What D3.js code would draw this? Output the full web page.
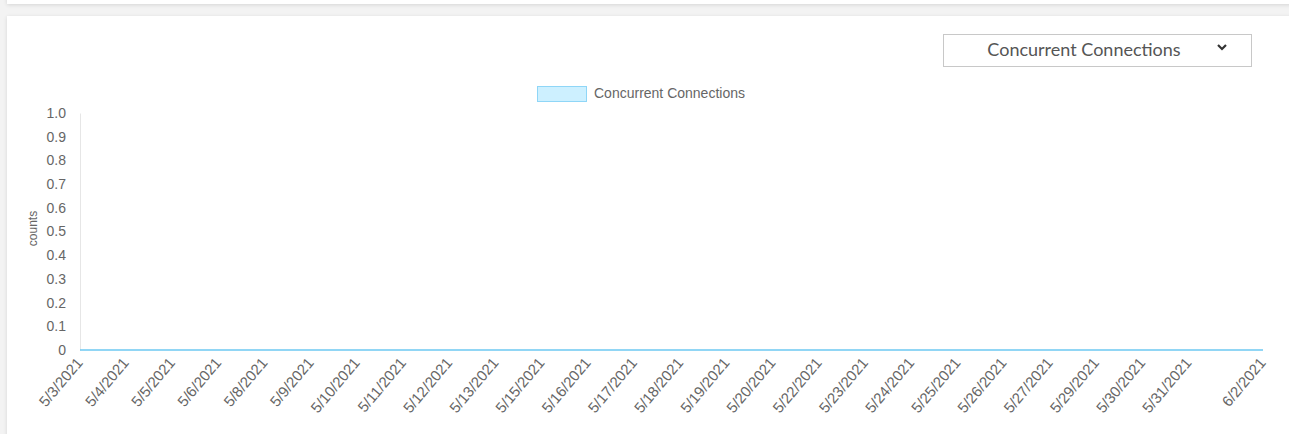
<!DOCTYPE html>
<html>
<head>
<meta charset="utf-8">
<script src="https://cdn.jsdelivr.net/npm/d3@7"></script>
<style>
  html, body { margin: 0; padding: 0; }
  body { width: 1289px; height: 434px; background: #f3f3f3; overflow: hidden; position: relative; }
  .card { position: absolute; background: #fff; box-shadow: 0 1px 4px rgba(0,0,0,0.12); }
  #chart { position: absolute; left: 0; top: 0; }
</style>
</head>
<body>
<div class="card" style="left:7px; top:-20px; width:1290px; height:24px;"></div>
<div class="card" style="left:7px; top:16px; width:1290px; height:440px;"></div>
<svg id="chart" width="1289" height="434"></svg>
<script>
// Sampled timestamps (one per axis label) and the connection counts at each
const timestamps = [
  "2021-05-03T10:00", "2021-05-04T14:00", "2021-05-05T18:00", "2021-05-06T22:00",
  "2021-05-08T02:00", "2021-05-09T06:00", "2021-05-10T10:00", "2021-05-11T14:00",
  "2021-05-12T18:00", "2021-05-13T22:00", "2021-05-15T02:00", "2021-05-16T06:00",
  "2021-05-17T10:00", "2021-05-18T14:00", "2021-05-19T18:00", "2021-05-20T22:00",
  "2021-05-22T02:00", "2021-05-23T06:00", "2021-05-24T10:00", "2021-05-25T14:00",
  "2021-05-26T18:00", "2021-05-27T22:00", "2021-05-29T02:00", "2021-05-30T06:00",
  "2021-05-31T10:00", "2021-06-02T07:00"
];
const counts = [
  0, 0, 0, 0, 0, 0, 0, 0, 0, 0, 0, 0, 0,
  0, 0, 0, 0, 0, 0, 0, 0, 0, 0, 0, 0, 0
];
const yTicks = [0, 0.1, 0.2, 0.3, 0.4, 0.5, 0.6, 0.7, 0.8, 0.9, 1.0];
const seriesName = "Concurrent Connections";
const metricOptions = ["Concurrent Connections"];

const parse = d3.timeParse("%Y-%m-%dT%H:%M");
const data = timestamps.map((t, i) => ({ t: parse(t), v: counts[i] }));

const svg = d3.select("#chart");
const font = "'Liberation Sans', Arial, sans-serif";
const textColor = "#666";

const x = d3.scaleTime().domain(d3.extent(data, d => d.t)).range([80, 1263]);
const y = d3.scaleLinear().domain([0, 1]).range([350, 113]);

// y axis
const yAxis = svg.append("g")
  .attr("transform", `translate(${x.range()[0]},0)`)
  .call(d3.axisLeft(y).tickValues(yTicks).tickSize(0).tickPadding(14)
    .tickFormat(d => d === 0 ? "0" : d3.format(".1f")(d)));
yAxis.select(".domain").attr("stroke", "#e6e6e6");
yAxis.selectAll("text").attr("font-family", font).attr("font-size", 14).attr("fill", textColor);

svg.append("text")
  .attr("transform", `translate(37,${(y.range()[0] + y.range()[1]) / 2 - 3}) rotate(-90)`)
  .attr("text-anchor", "middle")
  .attr("font-family", font).attr("font-size", 12).attr("fill", textColor)
  .text("counts");

// x axis labels
const xAxis = svg.append("g")
  .attr("transform", `translate(0,${y(0)})`)
  .call(d3.axisBottom(x).tickValues(data.map(d => d.t)).tickSize(0).tickPadding(0)
    .tickFormat(d3.timeFormat("%-m/%-d/%Y")));
xAxis.select(".domain").remove();
xAxis.selectAll("text")
  .attr("font-family", font).attr("font-size", 15).attr("fill", textColor)
  .attr("text-anchor", "end")
  .attr("dy", null).attr("y", 0)
  .attr("transform", "translate(3,13) rotate(-50)");

// series line at its values
const line = d3.line().x(d => x(d.t)).y(d => y(d.v));
svg.append("path")
  .datum(data)
  .attr("fill", "none")
  .attr("stroke", "#6cc8f2")
  .attr("stroke-width", 1.6)
  .attr("d", line);

// legend
const lg = svg.append("g").attr("transform", "translate(537,86)");
lg.append("rect").attr("x", 0.5).attr("y", 0.5).attr("width", 49).attr("height", 15)
  .attr("fill", "#cdf0ff").attr("stroke", "#8fd6f7").attr("stroke-width", 1);
lg.append("text").attr("x", 57).attr("y", 12)
  .attr("font-family", font).attr("font-size", 14).attr("fill", textColor)
  .text(seriesName);

// metric dropdown
const dd = svg.append("g").attr("transform", "translate(943,34)");
dd.append("rect").attr("x", 0.5).attr("y", 0.5).attr("width", 308).attr("height", 32)
  .attr("fill", "#fff").attr("stroke", "#c8c8c8");
dd.append("text").attr("x", 141).attr("y", 22).attr("text-anchor", "middle")
  .attr("font-family", "Lato, 'Open Sans', sans-serif").attr("font-size", 18).attr("fill", "#555")
  .text(metricOptions[0]);
dd.append("path").attr("d", "M275,11 L279,15 L283,11")
  .attr("fill", "none").attr("stroke", "#333").attr("stroke-width", 2.2);
</script>
</body>
</html>
